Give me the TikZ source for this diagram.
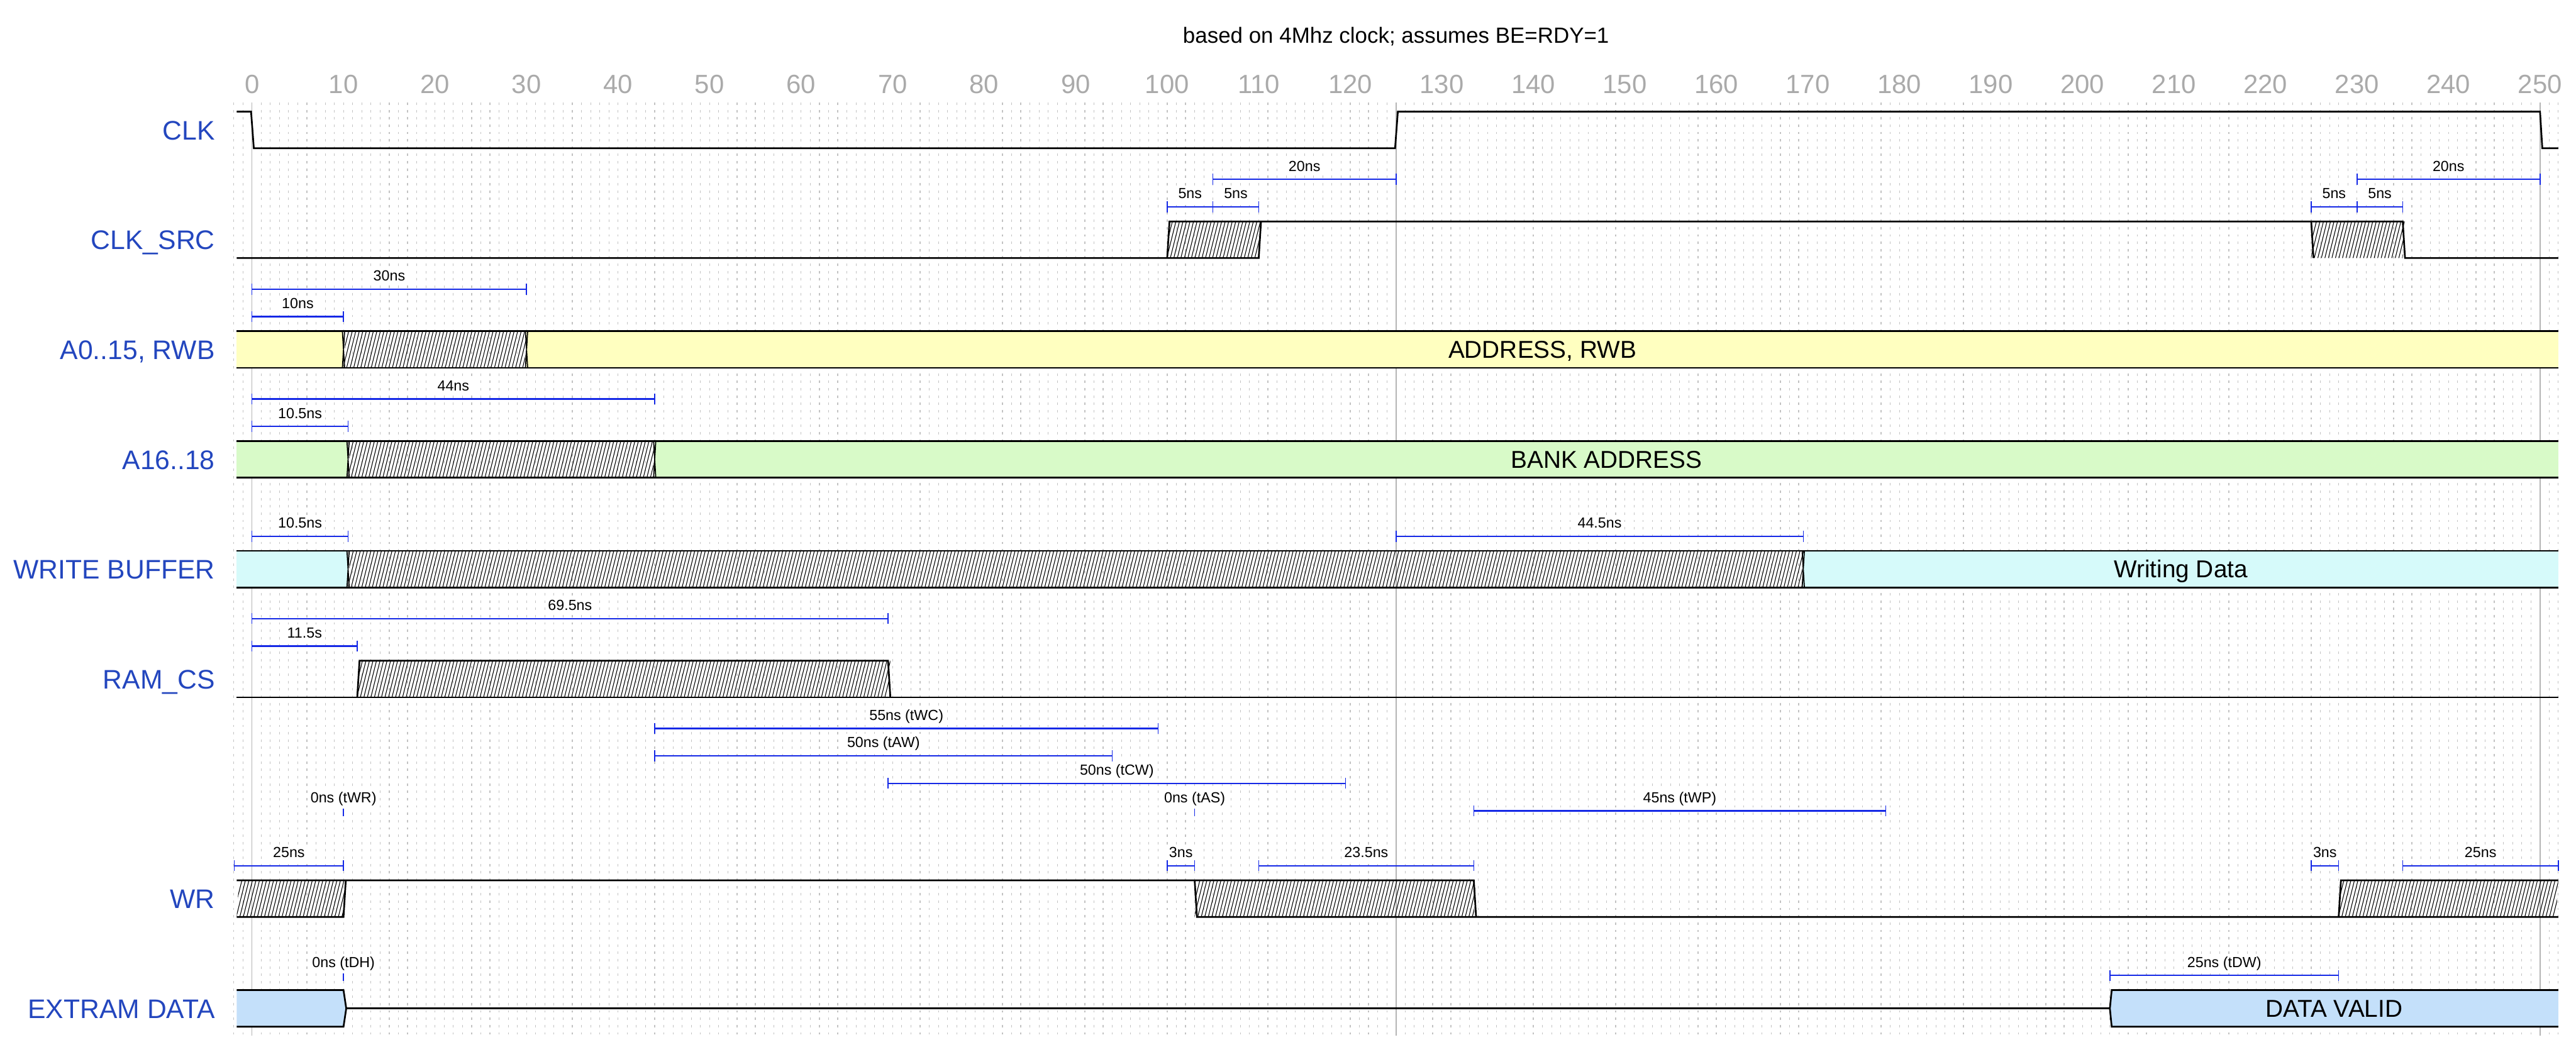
\documentclass[tikz,border=0pt]{standalone}
\usepackage{fontspec}
\setmainfont{Liberation Sans}
\definecolor{sigblue}{RGB}{35,70,190}
\definecolor{annblue}{RGB}{20,40,230}
\definecolor{tickgray}{RGB}{170,170,170}
\definecolor{gridgray}{RGB}{195,195,195}
\definecolor{axisgray}{RGB}{180,180,180}
\definecolor{busyellow}{RGB}{255,255,192}
\definecolor{busgreen}{RGB}{216,250,200}
\definecolor{buscyan}{RGB}{214,250,250}
\definecolor{busblue}{RGB}{196,224,250}
\newcommand\tL{-1.67}
\newcommand\tR{252}
% hatched zone: t1, t2, ytop, ybot
\newcommand\hatchzone[4]{%
  \begin{scope}
    \clip (#1,#4) -- (#1+0.25,#3) -- (#2+0.25,#3) -- (#2,#4) -- cycle;
    \pgfmathtruncatemacro\hN{((#2)-(#1)+2)*2.6}
    \foreach \i in {0,...,\hN} \draw[hatchline] ({#1-1.2+\i/2.6},#4) -- ++(1.0,{#3-#4});
  \end{scope}}
% annotation: name, t1, t2, y, label
\newcommand\tannot[5]{%
  \coordinate (#1a) at (#2,#4);
  \coordinate (#1b) at (#3,#4);
  \draw[ann] (#1a) -- (#1b);
  \draw[anntick] ([yshift=2.25pt]#1a) -- ([yshift=-2.25pt]#1a);
  \draw[anntick] ([yshift=2.25pt]#1b) -- ([yshift=-2.25pt]#1b);
  \node[annlabel] (#1l) at ({(#2+#3)/2},#4-13.5) {#5};}
\begin{document}
\begin{tikzpicture}[x=3.75pt,y=-0.25pt,
  wave/.style={line width=0.7pt, black, line join=miter},
  xedge/.style={line width=0.45pt, black},
  hatchline/.style={line width=0.28pt, black},
  ann/.style={annblue, line width=0.6pt},
  anntick/.style={annblue, line width=0.4pt},
  annlabel/.style={fill=white, inner sep=1.2pt, anchor=base, font=\fontsize{6}{7}\selectfont},
  siglabel/.style={anchor=base east, text=sigblue, inner sep=0pt, font=\fontsize{11}{13}\selectfont},
  ticklabel/.style={text=tickgray, inner sep=0pt, font=\fontsize{10.8}{12}\selectfont},
  bandtext/.style={anchor=base, inner sep=0pt, font=\fontsize{10}{12}\selectfont},
  gridline/.style={gridgray, line width=0.3pt, dash pattern=on 1pt off 2pt},
  axisline/.style={axisgray, line width=0.4pt}]
\useasboundingbox (-27.5333,0) rectangle (253.9333,1724);

% title
\node[anchor=base, inner sep=0pt, font=\fontsize{9}{11}\selectfont] (title) at (125,71) {based on 4Mhz clock; assumes BE=RDY=1};

% tick labels
\foreach \t in {0,10,...,250} \node[ticklabel] (tk\t) at (\t,138) {\t};

% dotted grid
\foreach \t in {-2,...,252} \draw[gridline] (\t,168) -- (\t,1698);
% axis lines
\foreach \t in {0,125,250} \draw[axisline] (\t,168) -- (\t,1698);

% signal labels
\node[siglabel] (lclk)  at (-4,229) {CLK};
\node[siglabel] (lsrc)  at (-4,409) {CLK\_SRC};
\node[siglabel] (laddr) at (-4,589) {A0..15, RWB};
\node[siglabel] (lbank) at (-4,769) {A16..18};
\node[siglabel] (lwb)   at (-4,949) {WRITE BUFFER};
\node[siglabel] (lcs)   at (-4,1129) {RAM\_CS};
\node[siglabel] (lwr)   at (-4,1489) {WR};
\node[siglabel] (ldata) at (-4,1669) {EXTRAM DATA};

% CLK
\draw[wave] (\tL,183) -- (-0.1,183) -- (0.2,243) -- (124.9,243) -- (125.2,183) -- (250,183) -- (250.25,243) -- (\tR,243);

% CLK_SRC
\hatchzone{100}{110}{363}{423}
\hatchzone{225}{235}{363}{423}
\draw[wave] (\tL,423) -- (110,423) -- (110.25,363);
\draw[wave] (100,423) -- (100.25,363) -- (235,363) -- (235.25,423) -- (\tR,423);
\draw[wave] (225,363) -- (225.25,423);

% A0..15, RWB
\fill[busyellow] (\tL,543) rectangle (10,603);
\fill[busyellow] (30,543) rectangle (\tR,603);
\hatchzone{10}{29.8}{543}{603}
\draw[wave] (\tL,543) -- (\tR,543);
\draw[wave] (\tL,603) -- (\tR,603);
\draw[xedge] (9.88,543) -- (10.12,603) (9.88,603) -- (10.12,543);
\draw[xedge] (29.88,543) -- (30.12,603) (29.88,603) -- (30.12,543);
\node[bandtext] (taddr) at (141,587) {ADDRESS, RWB};

% A16..18
\fill[busgreen] (\tL,723) rectangle (10.5,783);
\fill[busgreen] (44,723) rectangle (\tR,783);
\hatchzone{10.5}{43.8}{723}{783}
\draw[wave] (\tL,723) -- (\tR,723);
\draw[wave] (\tL,783) -- (\tR,783);
\draw[xedge] (10.38,723) -- (10.62,783) (10.38,783) -- (10.62,723);
\draw[xedge] (43.88,723) -- (44.12,783) (43.88,783) -- (44.12,723);
\node[bandtext] (tbank) at (148,767) {BANK ADDRESS};

% WRITE BUFFER
\fill[buscyan] (\tL,903) rectangle (10.5,963);
\fill[buscyan] (169.5,903) rectangle (\tR,963);
\hatchzone{10.5}{169.3}{903}{963}
\draw[wave] (\tL,903) -- (\tR,903);
\draw[wave] (\tL,963) -- (\tR,963);
\draw[xedge] (10.38,903) -- (10.62,963) (10.38,963) -- (10.62,903);
\draw[xedge] (169.38,903) -- (169.62,963) (169.38,963) -- (169.62,903);
\node[bandtext] (twb) at (210.75,947) {Writing Data};

% RAM_CS
\hatchzone{11.5}{69.5}{1083}{1143}
\draw[wave] (\tL,1143) -- (\tR,1143);
\draw[wave] (11.5,1143) -- (11.75,1083) -- (69.5,1083) -- (69.75,1143);

% WR
\hatchzone{\tL}{10}{1443}{1503}
\hatchzone{103}{133.5}{1443}{1503}
\hatchzone{228}{251.75}{1443}{1503}
\draw[wave] (\tL,1443) -- (133.5,1443) -- (133.75,1503);
\draw[wave] (\tL,1503) -- (10,1503) -- (10.25,1443);
\draw[wave] (103,1443) -- (103.25,1503) -- (\tR,1503);
\draw[wave] (228,1503) -- (228.25,1443) -- (\tR,1443);

% EXTRAM DATA
\fill[busblue] (\tL,1623) -- (10,1623) -- (10.3,1653) -- (10,1683) -- (\tL,1683) -- cycle;
\draw[wave] (\tL,1623) -- (10,1623) -- (10.3,1653) -- (10,1683) -- (\tL,1683);
\draw[wave] (10.3,1653) -- (203,1653);
\fill[busblue] (\tR,1623) -- (203.2,1623) -- (203,1653) -- (203.2,1683) -- (\tR,1683) -- cycle;
\draw[wave] (\tR,1623) -- (203.2,1623) -- (203,1653) -- (203.2,1683) -- (\tR,1683);
\node[bandtext] (tdata) at (227.5,1667) {DATA VALID};

% annotations
\tannot{a1}{105}{125}{294}{20ns}
\tannot{a2}{100}{105}{339}{5ns}
\tannot{a3}{105}{110}{339}{5ns}
\tannot{a4}{230}{250}{294}{20ns}
\tannot{a5}{225}{230}{339}{5ns}
\tannot{a6}{230}{235}{339}{5ns}
\tannot{a7}{0}{30}{474}{30ns}
\tannot{a8}{0}{10}{519}{10ns}
\tannot{a9}{0}{44}{654}{44ns}
\tannot{a10}{0}{10.5}{699}{10.5ns}
\tannot{a11}{0}{10.5}{879}{10.5ns}
\tannot{a12}{125}{169.5}{879}{44.5ns}
\tannot{a13}{0}{69.5}{1014}{69.5ns}
\tannot{a14}{0}{11.5}{1059}{11.5s}
\tannot{a15}{44}{99}{1194}{55ns (tWC)}
\tannot{a16}{44}{94}{1239}{50ns (tAW)}
\tannot{a17}{69.5}{119.5}{1284}{50ns (tCW)}
\tannot{a18}{10}{10}{1329}{0ns (tWR)}
\tannot{a19}{103}{103}{1329}{0ns (tAS)}
\tannot{a20}{133.5}{178.5}{1329}{45ns (tWP)}
\tannot{a21}{-1.93}{10}{1419}{25ns}
\tannot{a22}{100}{103}{1419}{3ns}
\tannot{a23}{110}{133.5}{1419}{23.5ns}
\tannot{a24}{225}{228}{1419}{3ns}
\tannot{a25}{235}{252}{1419}{25ns}
\tannot{a26}{10}{10}{1599}{0ns (tDH)}
\tannot{a27}{203}{228}{1599}{25ns (tDW)}
\end{tikzpicture}
\end{document}
